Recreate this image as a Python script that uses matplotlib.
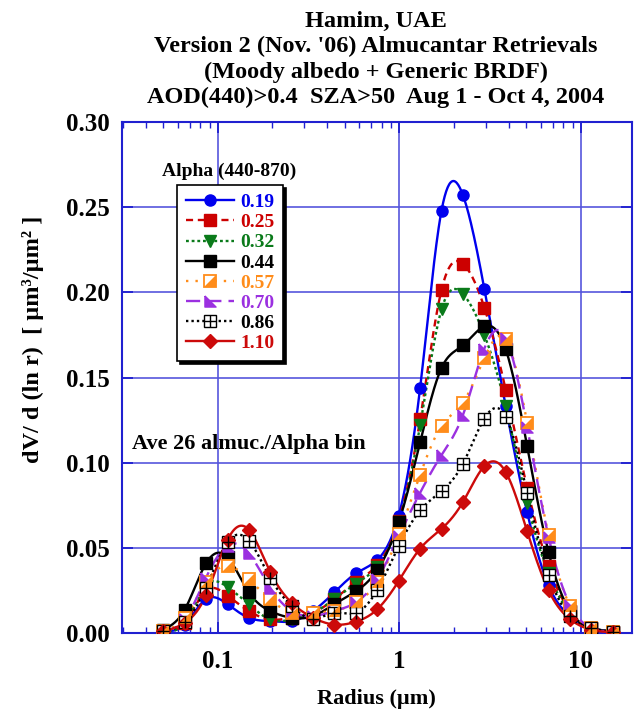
import numpy as np
import matplotlib
matplotlib.use('Agg')
import matplotlib.pyplot as plt
from matplotlib.ticker import FixedLocator, NullFormatter, LogLocator

plt.rcParams['font.family'] = ['Liberation Serif', 'DejaVu Serif']
plt.rcParams['font.weight'] = 'bold'

# ==================== Data ====================
RADIUS = [0.05, 0.0656, 0.0861, 0.113, 0.148, 0.194, 0.255, 0.335, 0.439,
          0.576, 0.756, 0.992, 1.302, 1.708, 2.241, 2.94, 3.857, 5.06,
          6.64, 8.71, 11.43, 15.0]

ALPHA_LABELS = ["0.19", "0.25", "0.32", "0.44", "0.57", "0.70", "0.86", "1.10"]

dv_019 = [0.0012, 0.005, 0.020, 0.017, 0.009, 0.007, 0.007, 0.013, 0.024,
          0.035, 0.043, 0.069, 0.144, 0.248, 0.257, 0.202, 0.133, 0.071,
          0.028, 0.010, 0.003, 0.0008]
dv_025 = [0.0015, 0.006, 0.025, 0.022, 0.013, 0.008, 0.009, 0.012, 0.020,
          0.030, 0.040, 0.066, 0.1255, 0.2015, 0.2168, 0.191, 0.1427, 0.0853,
          0.0392, 0.013, 0.003, 0.0008]
dv_032 = [0.0015, 0.006, 0.028, 0.027, 0.017, 0.008, 0.008, 0.012, 0.020,
          0.029, 0.039, 0.065, 0.122, 0.190, 0.199, 0.175, 0.133, 0.0765,
          0.035, 0.012, 0.003, 0.0008]
dv_044 = [0.002, 0.0137, 0.041, 0.0445, 0.024, 0.013, 0.009, 0.010, 0.017,
          0.0245, 0.037, 0.065, 0.112, 0.1556, 0.1688, 0.180, 0.1665, 0.1098,
          0.0475, 0.013, 0.003, 0.0008]
dv_057 = [0.0015, 0.009, 0.030, 0.0395, 0.0316, 0.0198, 0.012, 0.012, 0.013,
          0.018, 0.030, 0.058, 0.093, 0.1216, 0.1353, 0.1614, 0.1723, 0.1235,
          0.0575, 0.016, 0.003, 0.0008]
dv_070 = [0.0015, 0.008, 0.0326, 0.0514, 0.047, 0.0267, 0.013, 0.010, 0.013,
          0.018, 0.0317, 0.0568, 0.0824, 0.1045, 0.128, 0.167, 0.1733, 0.121,
          0.0565, 0.0167, 0.003, 0.0008]
dv_086 = [0.0012, 0.0065, 0.0267, 0.0534, 0.0543, 0.0326, 0.0158, 0.0085,
          0.0119, 0.0119, 0.0254, 0.051, 0.072, 0.0833, 0.0994, 0.1259, 0.127,
          0.0824, 0.0343, 0.0102, 0.003, 0.0008]
dv_110 = [0.001, 0.006, 0.0223, 0.0547, 0.0607, 0.036, 0.0178, 0.009, 0.005,
          0.0067, 0.014, 0.0306, 0.0496, 0.0612, 0.0769, 0.098, 0.0945, 0.0598,
          0.0251, 0.0082, 0.002, 0.0005]

SERIES = [dv_019, dv_025, dv_032, dv_044, dv_057, dv_070, dv_086, dv_110]

# ==================== Styles ====================
COLORS = ['#0000ee', '#cc0000', '#0a7a1a', '#000000',
          '#ff8c1a', '#9b30e0', '#000000', '#cc0a0a']
LINESTYLES = ['-', (0, (3, 2)), (0, (1.2, 1.2)), '-',
              (0, (1, 3)), (0, (6, 3)), (0, (1, 1.3)), '-']

LOWER_LEFT_TRI = [(-1, 1), (1, -1), (-1, -1), (-1, 1)]
LOWER_RIGHT_TRI = [(1, 1), (1, -1), (-1, -1), (1, 1)]


def natural_spline(x, y, xs):
    """Natural cubic spline (numpy only)."""
    x = np.asarray(x, float)
    y = np.asarray(y, float)
    n = len(x)
    h = np.diff(x)
    A = np.zeros((n, n))
    b = np.zeros(n)
    A[0, 0] = A[-1, -1] = 1
    for i in range(1, n - 1):
        A[i, i - 1] = h[i - 1]
        A[i, i] = 2 * (h[i - 1] + h[i])
        A[i, i + 1] = h[i]
        b[i] = 3 * ((y[i + 1] - y[i]) / h[i] - (y[i] - y[i - 1]) / h[i - 1])
    c = np.linalg.solve(A, b)
    bb = (y[1:] - y[:-1]) / h - h * (2 * c[:-1] + c[1:]) / 3
    d = (c[1:] - c[:-1]) / (3 * h)
    idx = np.clip(np.searchsorted(x, xs) - 1, 0, n - 2)
    dx = xs - x[idx]
    return y[idx] + bb[idx] * dx + c[idx] * dx ** 2 + d[idx] * dx ** 3


fig = plt.figure(figsize=(6.35, 7.17), dpi=100)
ax = fig.add_axes([0.192, 0.117, 0.803, 0.713])

logr = np.log10(RADIUS)
xs = np.linspace(logr[0], logr[-1], 600)

MS = 8
handles = []
for i, dv in enumerate(SERIES):
    col = COLORS[i]
    ys = natural_spline(logr, dv, xs)
    ax.plot(10 ** xs, ys, color=col, ls=LINESTYLES[i], lw=1.7, zorder=3)
    proxy_kw = dict(color=col, ls=LINESTYLES[i], lw=1.7)
    if i == 0:
        ax.plot(RADIUS, dv, 'o', color=col, ms=MS, ls='none', zorder=4)
        h = ax.plot([], [], marker='o', ms=MS, **proxy_kw)[0]
    elif i in (1, 3):
        ax.plot(RADIUS, dv, 's', color=col, ms=MS, ls='none', zorder=4)
        h = ax.plot([], [], marker='s', ms=MS, **proxy_kw)[0]
    elif i == 2:
        ax.plot(RADIUS, dv, 'v', color=col, ms=MS + 1, ls='none', zorder=4)
        h = ax.plot([], [], marker='v', ms=MS + 1, **proxy_kw)[0]
    elif i == 4:
        ax.plot(RADIUS, dv, 's', mfc='white', mec=col, mew=1.3, ms=MS,
                ls='none', zorder=4)
        ax.plot(RADIUS, dv, marker=LOWER_RIGHT_TRI, color=col, ms=MS - 1,
                ls='none', zorder=5)
        h1 = ax.plot([], [], marker='s', mfc='white', mec=col, mew=1.3,
                     ms=MS, **proxy_kw)[0]
        h2 = ax.plot([], [], marker=LOWER_RIGHT_TRI, color=col, ms=MS - 1,
                     ls='none')[0]
        h = (h1, h2)
    elif i == 5:
        ax.plot(RADIUS, dv, marker=LOWER_LEFT_TRI, color=col, ms=MS,
                ls='none', zorder=4)
        h = ax.plot([], [], marker=LOWER_LEFT_TRI, ms=MS, **proxy_kw)[0]
    elif i == 6:
        ax.plot(RADIUS, dv, 's', mfc='white', mec=col, mew=1.0, ms=MS,
                ls='none', zorder=4)
        ax.plot(RADIUS, dv, '+', color=col, mew=1.0, ms=MS, ls='none',
                zorder=5)
        h1 = ax.plot([], [], marker='s', mfc='white', mec=col, mew=1.0,
                     ms=MS, **proxy_kw)[0]
        h2 = ax.plot([], [], '+', color=col, mew=1.0, ms=MS, ls='none')[0]
        h = (h1, h2)
    else:
        ax.plot(RADIUS, dv, 'D', color=col, ms=MS - 1, ls='none', zorder=4)
        h = ax.plot([], [], marker='D', ms=MS - 1, **proxy_kw)[0]
    handles.append(h)

# ==================== Axes ====================
ax.set_xscale('log')
ax.set_xlim(0.0296, 19.1)
ax.set_ylim(0, 0.30)
ax.xaxis.set_major_locator(FixedLocator([0.1, 1, 10]))
ax.set_xticklabels(['0.1', '1', '10'])
ax.xaxis.set_minor_locator(LogLocator(base=10, subs=np.arange(2, 10)))
ax.xaxis.set_minor_formatter(NullFormatter())
ax.set_yticks(np.arange(0, 0.301, 0.05))
ax.set_yticklabels([f'{v:.2f}' for v in np.arange(0, 0.301, 0.05)])

blue = '#2020d0'
for sp in ax.spines.values():
    sp.set_color(blue)
    sp.set_linewidth(1.5)
ax.tick_params(which='both', direction='in', color=blue, top=True, right=True)
ax.tick_params(which='major', length=8, width=1.3, labelsize=18, pad=9)
ax.tick_params(axis='x', which='major', pad=12)
ax.tick_params(which='minor', length=4, width=1.0)
ax.grid(True, which='major', color='#5555dd', lw=1.4, alpha=0.85)
ax.set_axisbelow(True)

ax.set_xlabel('Radius (\u00b5m)', fontsize=16, fontweight='bold', labelpad=12)
ax.set_ylabel('dV/ d (ln r)  [ \u00b5m\u00b3/\u00b5m\u00b2 ]', fontsize=17.5,
              fontweight='bold')
ax.yaxis.set_label_coords(-0.152, 0.575)

fig.text(0.592, 0.985,
         "Hamim, UAE\nVersion 2 (Nov. '06) Almucantar Retrievals\n"
         "(Moody albedo + Generic BRDF)\n"
         "AOD(440)>0.4  SZA>50  Aug 1 - Oct 4, 2004",
         ha='center', va='top', fontsize=17.5, fontweight='bold',
         linespacing=1.26)

ax.text(0.02, 0.36, 'Ave 26 almuc./Alpha bin', transform=ax.transAxes,
        fontsize=16, fontweight='bold')
ax.text(0.078, 0.895, 'Alpha (440-870)', transform=ax.transAxes,
        fontsize=14, fontweight='bold')

leg = ax.legend(handles, ALPHA_LABELS, loc='upper left',
                bbox_to_anchor=(0.108, 0.877), borderaxespad=0,
                frameon=True, fancybox=False,
                shadow={'color': 'black', 'alpha': 1}, edgecolor='black',
                numpoints=1, handlelength=2.5, handletextpad=0.3,
                labelspacing=0.13, borderpad=0.45,
                prop={'weight': 'bold', 'size': 14})
leg.get_frame().set_linewidth(1.2)
for txt, col in zip(leg.get_texts(), COLORS):
    txt.set_color(col)

fig.savefig('out.png', dpi=100)
